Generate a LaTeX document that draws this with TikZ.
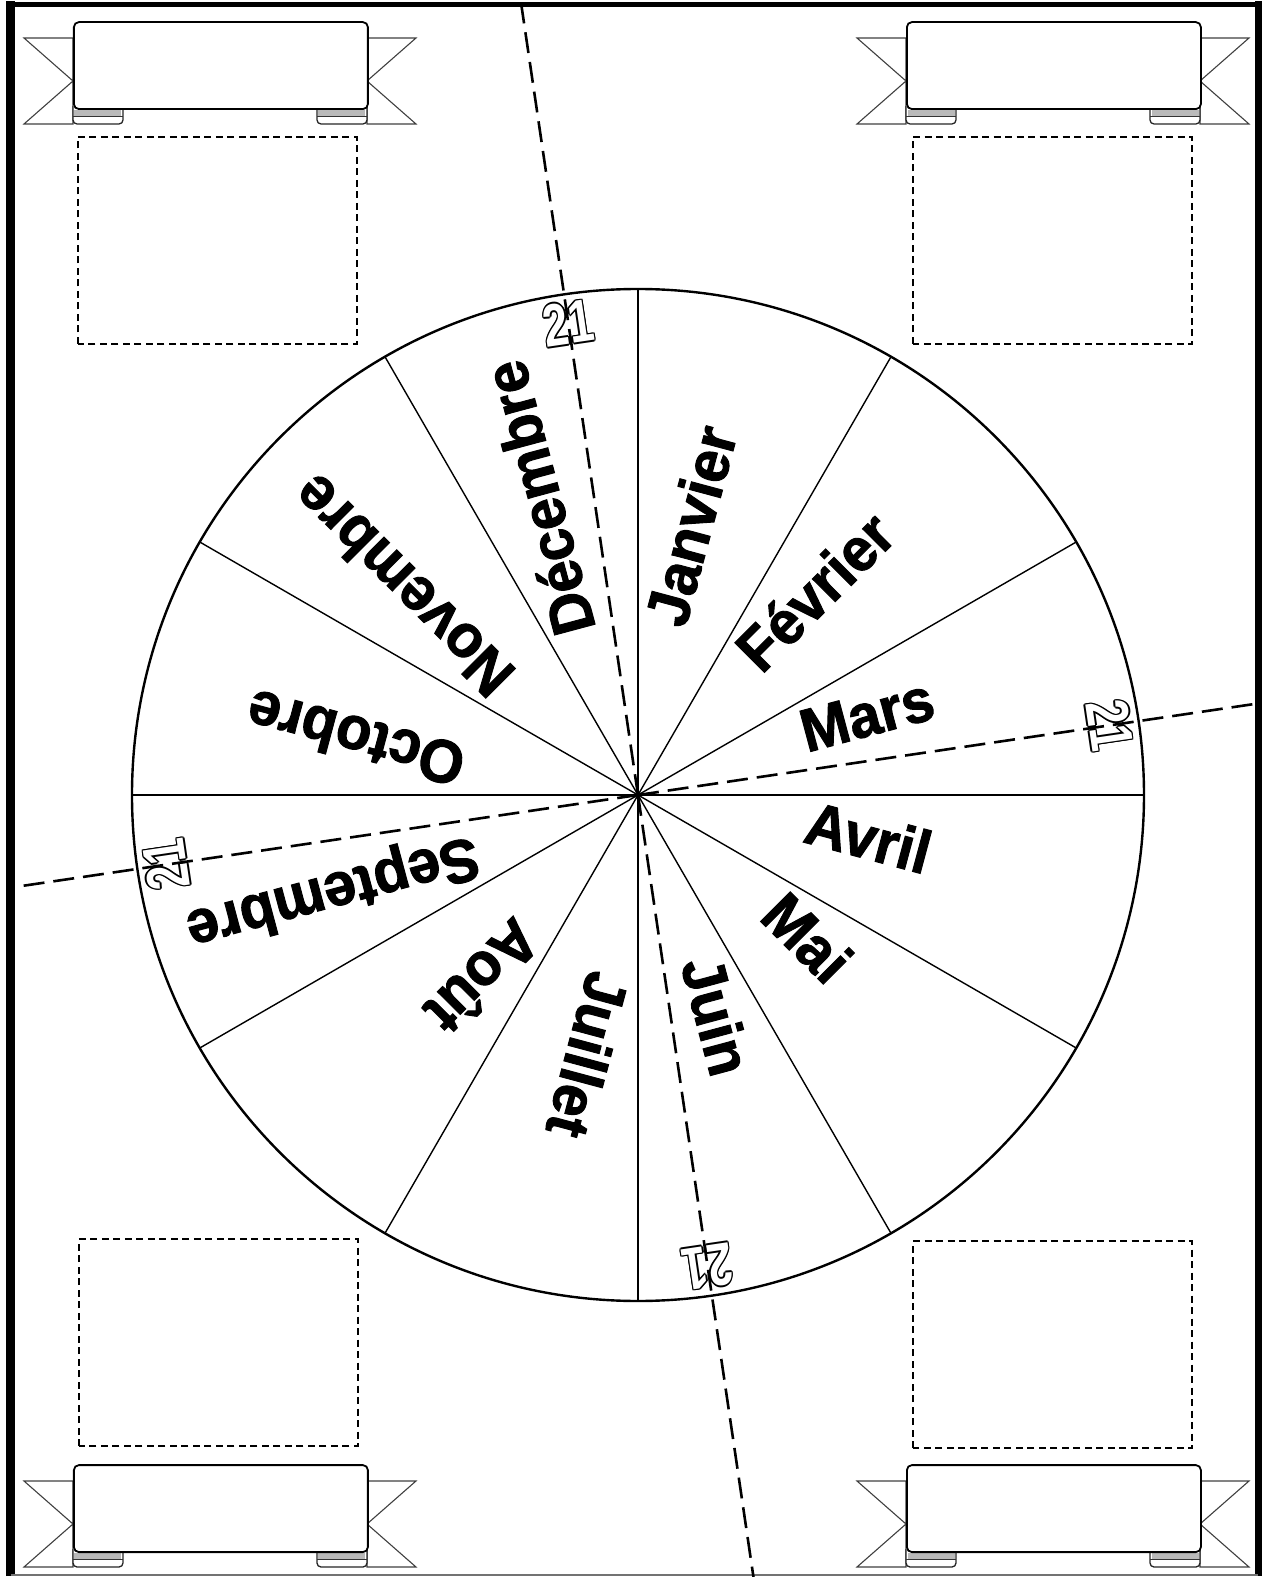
\documentclass[tikz,border=0pt]{standalone}
\usepackage{fontspec}
\setmainfont{Liberation Sans}
\newfontfamily\heavyfont{Liberation Sans}[BoldFeatures={FakeBold=1.6}]
\usepackage{tikz}
\usetikzlibrary{calc}

% ribbon with two tails and rolled ends; #2,#3 = lower left of the scroll
\newcommand{\banner}[3]{%
  \begin{scope}[shift={(#2,#3)}]
    \draw[tail] (0,72) -- (-49,72) -- (0,29) -- (-49,-14) -- (0,-14) -- cycle;
    \draw[tail] (294,72) -- (343,72) -- (294,29) -- (343,-14) -- (294,-14) -- cycle;
    \draw[roll] (0,4) -- (0,-14) -- (50,-14) -- (50,4);
    \draw[roll] (244,4) -- (244,-14) -- (294,-14) -- (294,4);
    \fill[gray!55] (1.5,0) rectangle (48.5,-6);
    \fill[gray!55] (245.5,0) rectangle (292.5,-6);
    \draw[black!80,line width=0.9pt] (0,-6) -- (50,-6) (244,-6) -- (294,-6);
    \node[scroll,minimum width=294pt,minimum height=87pt,anchor=south west]
      (#1) at (0,0) {};
  \end{scope}}

% outlined day number on the rim
\newcommand{\daylabel}[2]{%
  \foreach \o in {0,45,...,315}
    \node[rotate=#2-90,dayink] at ($(#2:477)+(\o:1.6)$) {21};
  \node[rotate=#2-90,dayfill] (#1) at (#2:477) {21};}

\begin{document}
\begin{tikzpicture}[
  x=1pt,y=1pt,
  spoke/.style={draw=black,line width=1.4pt},
  cutline/.style={draw=black,line width=2.6pt,dash pattern=on 21pt off 9pt},
  photo/.style={draw=black,line width=1.4pt,dash pattern=on 7pt off 4.5pt},
  month/.style={font=\fontsize{58}{58}\selectfont\heavyfont\bfseries,
    anchor=mid west,inner sep=0pt,yscale=1.05},
  dayink/.style={font=\fontsize{60}{60}\selectfont\bfseries,text=black,
    inner sep=0pt,xscale=0.75},
  dayfill/.style={dayink,text=white},
  tail/.style={draw=black!75,fill=white,line width=1.1pt,line join=miter},
  roll/.style={draw=black!85,fill=white,line width=1.3pt,rounded corners=4pt},
  scroll/.style={draw=black,fill=white,line width=1.8pt,rounded corners=5pt,
    inner sep=0pt}
]
  \useasboundingbox (-638,-782) rectangle (630,795);

  % page frame
  \draw[line width=9pt] (-627,-781) -- (-627,794);
  \draw[line width=5pt] (-631,790) -- (624,790);
  \draw[line width=7pt] (620.5,794) -- (620.5,-781);
  \draw[black!55,line width=1.2pt] (-627,-780) -- (620,-780);

  \banner{bannerTL}{-565}{685}
  \banner{bannerTR}{268}{685}
  \banner{bannerBL}{-565}{-758}
  \banner{bannerBR}{268}{-758}

  \draw[photo] (-560,451) rectangle (-281,658);
  \draw[photo] (275,451) rectangle (554,658);
  \draw[photo] (-559,-651) rectangle (-280,-444);
  \draw[photo] (275,-653) rectangle (554,-446);

  % the year wheel
  \node[circle,draw,line width=2.4pt,minimum size=1012pt,inner sep=0pt,
    outer sep=0pt] (dial) at (0,0) {};
  \draw[spoke] (dial.0) -- (dial.180);
  \draw[spoke] (dial.30) -- (dial.210);
  \draw[spoke] (dial.60) -- (dial.240);
  \draw[spoke] (dial.90) -- (dial.270);
  \draw[spoke] (dial.120) -- (dial.300);
  \draw[spoke] (dial.150) -- (dial.330);

  \node[rotate=75,month] (jan) at (75:172) {Janvier};
  \node[rotate=45,month] (feb) at (45:172) {Février};
  \node[rotate=15,month] (mar) at (15:174) {Mars};
  \node[rotate=-15,month] (apr) at (-15:170) {Avril};
  \node[rotate=-45,month] (may) at (-45:172) {Mai};
  \node[rotate=-75,month] (jun) at (-75:174) {Juin};
  \node[rotate=-105,month] (jul) at (-105:180) {Juillet};
  \node[rotate=-135,month] (aug) at (-135:172) {Août};
  \node[rotate=-165,month] (sep) at (-165:170) {Septembre};
  \node[rotate=165,month] (oct) at (165:176) {Octobre};
  \node[rotate=135,month] (nov) at (135:172) {Novembre};
  \node[rotate=105,month] (dec) at (105:172) {Décembre};

  \daylabel{solsticeW}{98.4}
  \daylabel{equinoxS}{8.4}
  \daylabel{equinoxA}{188.4}
  \daylabel{solsticeS}{278.4}

  % fold lines
  \begin{scope}
    \clip (-622,-782) rectangle (617,788);
    \draw[cutline] (dial.center) -- (8.4:900);
    \draw[cutline] (dial.center) -- (188.4:900);
    \draw[cutline] (dial.center) -- (98.4:900);
    \draw[cutline] (dial.center) -- (278.4:900);
  \end{scope}
\end{tikzpicture}
\end{document}
